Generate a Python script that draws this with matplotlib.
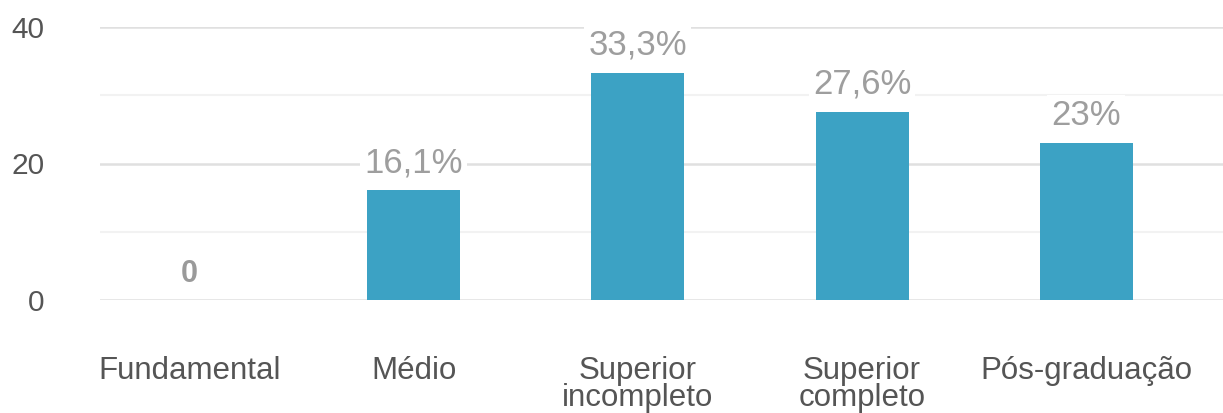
import matplotlib
matplotlib.use("Agg")
import matplotlib.pyplot as plt
import numpy as np

categories = ["Fundamental", "Médio", "Superior\nincompleto", "Superior\ncompleto", "Pós-graduação"]
values = [0, 16.1, 33.3, 27.6, 23]
value_labels = ["0", "16,1%", "33,3%", "27,6%", "23%"]
yticks = [0, 20, 40]

plt.rcParams['font.family'] = ['Liberation Sans', 'DejaVu Sans']

fig = plt.figure(figsize=(12.23, 4.13), dpi=100)
ax = fig.add_axes([100/1223, 113/413, 1123/1223, 273/413])

x = np.arange(len(categories))
bar_color = '#3ca2c4'
ax.bar(x, values, width=0.415, color=bar_color, zorder=3)

ax.set_xlim(-0.4, 4.61)
ax.set_ylim(0, 40)

# gridlines
for v in [10, 30]:
    ax.axhline(v, color='#f2f2f2', lw=1.5, zorder=1)
for v in yticks:
    ax.axhline(v, color='#e0e0e0', lw=1.8, zorder=1)

ax.set_yticks(yticks)
ax.set_yticklabels([str(t) for t in yticks])
ax.set_xticks(x)
ax.set_xticklabels(categories, linespacing=0.9)
ax.tick_params(axis='y', length=0, pad=40, labelsize=21.5, labelcolor='#555555')
ax.tick_params(axis='x', length=0, pad=40, labelsize=22.5, labelcolor='#555555')
for lab in ax.get_xticklabels():
    lab.set_verticalalignment('top')

for s in ax.spines.values():
    s.set_visible(False)

for xi, v, lab in zip(x, values, value_labels):
    if v == 0:
        ax.annotate(lab, (xi, v), xytext=(0, 13), textcoords='offset points',
                    ha='center', va='baseline', fontsize=22, fontweight='bold',
                    color='#9a9a9a', zorder=4)
    else:
        ax.annotate(lab, (xi, v), xytext=(0, 13), textcoords='offset points',
                    ha='center', va='baseline', fontsize=25, color='#9e9e9e',
                    bbox=dict(boxstyle='square,pad=0.12', fc='white', ec='none'),
                    zorder=4)

fig.savefig("out.png", dpi=100)
